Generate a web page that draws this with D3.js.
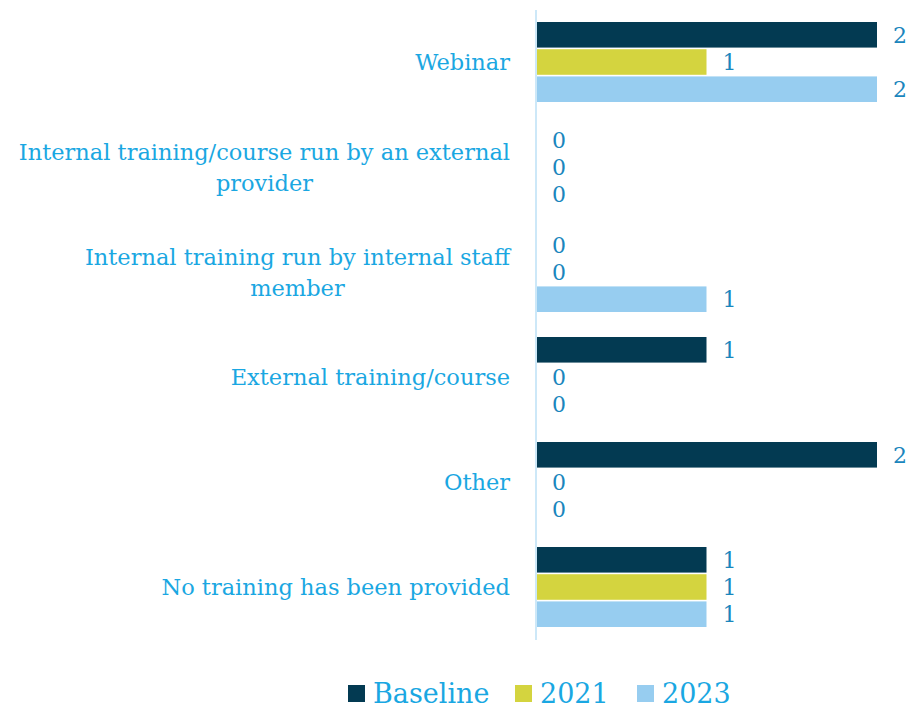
<!DOCTYPE html>
<html>
<head>
<meta charset="utf-8">
<script src="https://cdn.jsdelivr.net/npm/d3@7"></script>
<style>
  body { margin: 0; background: #fff; }
  text { font-family: "DejaVu Serif", "Liberation Serif", serif; }
</style>
</head>
<body>
<div id="chart"></div>
<script>
const categories = [
  ["Webinar"],
  ["Internal training/course run by an external", "provider"],
  ["Internal training run by internal staff", "member"],
  ["External training/course"],
  ["Other"],
  ["No training has been provided"]
];
const seriesNames = ["Baseline", "2021", "2023"];
const baseline = [2, 0, 0, 1, 2, 1];
const y2021 = [1, 0, 0, 0, 0, 1];
const y2023 = [2, 0, 1, 0, 0, 1];

const COLORS = ["#033a52", "#d4d43f", "#97cdf0"];
const WIDTH = 912, HEIGHT = 708;

const values = [baseline, y2021, y2023];
const rows = categories.map((c, i) => ({
  idx: i,
  label: c,
  vals: seriesNames.map((s, j) => ({series: s, j: j, v: values[j][i]}))
}));

const svg = d3.select("#chart").append("svg")
  .attr("width", WIDTH)
  .attr("height", HEIGHT);

const x = d3.scaleLinear().domain([0, 2]).range([536, 877]);
const y = d3.scaleBand().domain(d3.range(categories.length)).range([10, 640]);
const inner = d3.scaleBand().domain(d3.range(3)).range([12, y.bandwidth() - 13]).paddingInner(0.06);

const groups = svg.selectAll("g.cat")
  .data(rows)
  .enter()
  .append("g")
  .attr("class", "cat")
  .attr("transform", d => `translate(0,${y(d.idx)})`);

groups.selectAll("rect")
  .data(d => d.vals)
  .enter()
  .append("rect")
  .attr("x", x(0))
  .attr("y", d => inner(d.j))
  .attr("width", d => x(d.v) - x(0))
  .attr("height", inner.bandwidth())
  .attr("fill", d => COLORS[d.j]);

groups.selectAll("text.val")
  .data(d => d.vals)
  .enter()
  .append("text")
  .attr("class", "val")
  .attr("x", d => x(d.v) + 16)
  .attr("y", d => inner(d.j) + inner.bandwidth() / 2)
  .attr("dy", "0.36em")
  .attr("fill", "#1a86bd")
  .attr("font-size", 22)
  .text(d => d.v);

// category labels, lines centred on the widest line which is right-aligned
groups.append("text")
  .attr("class", "cat-label")
  .attr("text-anchor", "middle")
  .attr("fill", "#1aa7e2")
  .attr("font-size", 22.5)
  .each(function(d) {
    const t = d3.select(this);
    const lh = 31;
    const n = d.label.length;
    const mid = y.bandwidth() / 2;
    d.label.forEach((line, k) => {
      t.append("tspan")
        .attr("y", mid + (k - (n - 1) / 2) * lh)
        .attr("dy", "0.35em")
        .text(line);
    });
    const spans = t.selectAll("tspan").nodes();
    const maxW = d3.max(spans, s => s.getComputedTextLength());
    spans.forEach(s => d3.select(s).attr("x", 510 - maxW / 2));
  });

// axis line
svg.append("line")
  .attr("x1", x(0)).attr("x2", x(0))
  .attr("y1", y.range()[0]).attr("y2", y.range()[1])
  .attr("stroke", "#cde8f8")
  .attr("stroke-width", 2);

// legend
const legend = svg.append("g").attr("transform", "translate(0,693)");
const legX = [348, 515, 637];
seriesNames.forEach((s, j) => {
  legend.append("rect")
    .attr("x", legX[j])
    .attr("y", -8)
    .attr("width", 17)
    .attr("height", 17)
    .attr("fill", COLORS[j]);
  legend.append("text")
    .attr("x", legX[j] + 25)
    .attr("y", 0)
    .attr("dy", "0.36em")
    .attr("fill", "#1aa7e2")
    .attr("font-size", 27)
    .text(s);
});
</script>
</body>
</html>
